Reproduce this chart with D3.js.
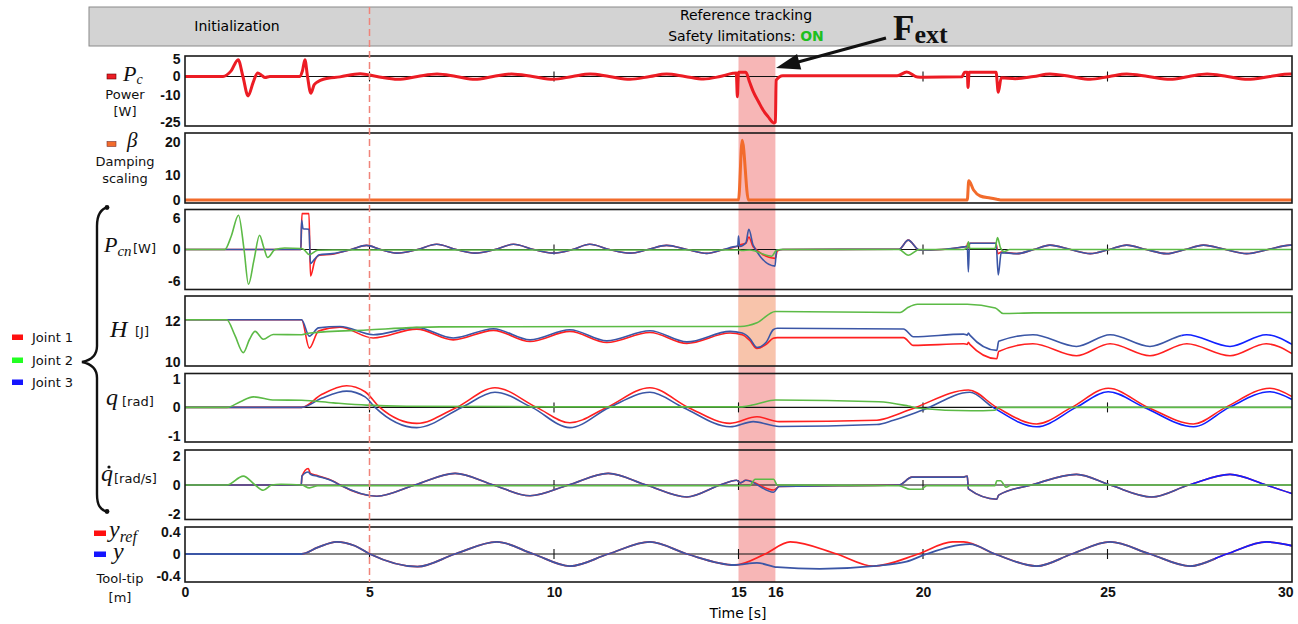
<!DOCTYPE html>
<html><head><meta charset="utf-8">
<script src="https://cdn.jsdelivr.net/npm/d3@7"></script>
<style>
body{margin:0;background:#fff;}
svg{display:block;}
</style></head><body>
<svg id="chart" width="1298" height="624"></svg>
<script>
// ---------------- DATA ----------------
const timeDomain = [0, 30];
const timeTicks = [0, 5, 10, 15, 16, 20, 25, 30];
const eventWindow = [15, 16];
const phaseBoundary = 5;
const gridTicks = [5, 10, 15, 20, 25];

const powerTicks = [5, 0, -10, -25];
const betaTicks = [20, 10, 0];
const pcnTicks = [6, 0, -6];
const energyTicks = [12, 10];
const qTicks = [1, 0, -1];
const qdotTicks = [2, 0, -2];
const tipTicks = [0.4, 0, -0.4];

const jointNames = ["Joint 1", "Joint 2", "Joint 3"];

// Power P_c [W]
const powerPc = [[0,0],[1.03,0],[1.25,1.6],[1.44,4.8],[1.57,0],[1.71,-10.5],[1.85,-3],[1.97,1.0],[2.08,0.3],[2.17,-0.5],[2.3,0],[3.1,0],[3.18,1.5],[3.25,4.8],[3.32,0],[3.41,-9],[3.5,-4.5],[3.6,-2.8],[3.75,-1.5],[4.2,-0.2],[4.75,0.8],[5.2,0],[5.77,-1.5],[6.3,0],[6.83,0.7],[7.35,0],[7.86,-1.5],[8.35,0],[8.85,0.7],[9.42,0],[9.98,-1.5],[10.5,0],[10.98,0.7],[11.5,0],[12.06,-1.5],[12.6,0],[13.05,0.7],[13.55,0],[14.05,-1.4],[14.5,0],[14.85,0.9],[14.94,1.0],[14.97,-11],[15.0,1.2],[15.2,1.2],[15.3,-3],[15.4,-8.2],[15.55,-14],[15.67,-18.5],[15.8,-22],[15.96,-25.5],[16.0,-25],[16.02,-2],[16.2,0.2],[19.3,0.2],[19.56,1.3],[19.85,-0.3],[20.0,-0.4],[21.05,-0.2],[21.13,1.2],[21.2,1.2],[21.22,-6],[21.25,1.2],[21.98,1.2],[22.04,-8.5],[22.12,-0.7],[22.5,-1.2],[23.0,0],[23.44,0.7],[24.0,0],[24.53,-1.5],[25.05,0],[25.52,0.7],[26.1,0],[26.7,-1.5],[27.2,0],[27.7,0.7],[28.25,0],[28.8,-1.5],[29.4,0],[29.95,0.7],[30,0.7]];

// Damping scaling beta
const betaScaling = [[0,0],[15.0,0],[15.1,20.5],[15.27,0],[21.2,0],[21.24,7.7],[21.37,4],[21.55,1.6],[21.82,0.8],[22.0,0.3],[22.1,0],[30,0]];

// P_cn [W]
const pcnJ1 = [[0,0],[3.14,0],[3.17,6.9],[3.36,6.9],[3.4,-5.1],[3.52,-2.1],[3.64,-1.1],[4.0,-0.9],[4.5,0],[4.92,0.8],[5.3,0],[5.74,-0.7],[6.3,0],[6.82,1.0],[7.35,0],[7.86,-0.7],[8.4,0],[8.9,1.0],[9.45,0],[9.98,-0.7],[10.5,0],[10.97,1.0],[11.5,0],[12.06,-0.7],[12.55,0],[13.05,0.8],[13.6,0],[14.14,-0.75],[14.6,0],[14.95,0.6],[15.0,0.8],[15.2,1.2],[15.28,2.4],[15.4,0.5],[16.0,-1.7],[16.05,-0.3],[16.2,0],[19.35,0.05],[19.6,1.8],[19.9,-0.1],[20.5,0],[21.1,0.5],[21.19,0.6],[21.21,1.2],[21.23,0.3],[21.27,1.2],[21.98,1.2],[22.03,-0.8],[22.12,-0.5],[22.54,-0.8],[23.0,0],[23.44,0.85],[24.0,0],[24.53,-0.8],[25.05,0],[25.52,0.85],[26.05,0],[26.6,-0.8],[27.1,0],[27.6,0.85],[28.2,0],[28.77,-0.8],[29.35,0],[29.95,0.85],[30,0.85]];
const pcnJ2 = [[0,0],[1.08,0],[1.25,2.5],[1.45,6.6],[1.6,0],[1.72,-6.7],[1.87,-2],[2.02,2.75],[2.13,0.5],[2.24,-1.55],[2.44,0],[2.7,0.3],[3.15,0.2],[3.22,0],[3.37,-1],[3.6,-0.15],[4.0,-0.1],[15.0,-0.1],[15.1,-0.2],[15.3,-0.1],[15.9,-1.3],[16.02,-0.2],[16.15,0],[19.35,0],[19.6,-1.1],[19.9,0],[21.1,0],[21.2,0.3],[21.23,1.5],[21.27,0.2],[21.95,0.2],[22.02,2.3],[22.1,0.3],[22.2,-0.4],[22.35,0],[30,0]];
const pcnJ3 = [[0,0],[3.14,0],[3.16,5.6],[3.2,4.0],[3.36,3.9],[3.4,-2.7],[3.52,-1.8],[3.64,-1.0],[4.0,-0.8],[4.5,0],[4.92,0.8],[5.3,0],[5.74,-0.7],[6.3,0],[6.82,1.0],[7.35,0],[7.86,-0.7],[8.4,0],[8.9,1.0],[9.45,0],[9.98,-0.7],[10.5,0],[10.97,1.0],[11.5,0],[12.06,-0.7],[12.55,0],[13.05,0.8],[13.6,0],[14.14,-0.75],[14.6,0],[14.95,0.6],[14.98,0.6],[15.0,2.6],[15.03,0.6],[15.2,1.3],[15.28,3.9],[15.4,0.8],[15.99,-3.2],[16.03,-0.1],[16.2,0],[19.35,0.05],[19.6,1.8],[19.9,-0.1],[20.5,0],[21.1,0.5],[21.2,0.6],[21.23,-4.3],[21.26,1.2],[21.98,1.2],[22.04,-4.9],[22.12,-0.6],[22.54,-0.8],[23.0,0],[23.44,0.85],[24.0,0],[24.53,-0.8],[25.05,0],[25.52,0.85],[26.05,0],[26.6,-0.8],[27.1,0],[27.6,0.85],[28.2,0],[28.77,-0.8],[29.35,0],[29.95,0.85],[30,0.85]];

// H [J]
const hJ1 = [[0,12.05],[3.16,12.05],[3.37,10.67],[3.62,11.5],[4.2,11.68],[5.1,11.16],[6.28,11.59],[7.27,11.07],[8.36,11.53],[9.35,10.99],[10.43,11.48],[11.43,10.94],[12.6,11.43],[13.6,10.9],[14.77,11.4],[15.1,11.32],[15.3,11.05],[15.5,10.65],[15.75,10.85],[15.94,11.15],[16.05,11.18],[19.47,11.18],[19.74,10.8],[21.1,10.88],[21.2,10.85],[21.23,10.95],[21.27,10.85],[22.0,10.15],[22.05,10.5],[22.98,10.88],[24.16,10.3],[25.07,10.88],[26.15,10.3],[27.15,10.88],[28.32,10.3],[29.3,10.88],[30,10.4]];
const hJ2 = [[0,12.05],[1.13,12.05],[1.35,11.3],[1.58,10.45],[1.75,11.1],[1.9,11.48],[2.12,11.1],[2.39,11.33],[3.16,11.32],[3.4,11.4],[4.92,11.55],[6.9,11.7],[12.8,11.72],[15.05,11.72],[15.5,11.9],[16.0,12.45],[19.38,12.4],[19.6,12.65],[19.85,12.8],[21.2,12.8],[21.96,12.62],[22.17,12.35],[23,12.38],[30,12.4]];
const hJ3 = [[0,12.05],[3.16,12.05],[3.37,11.25],[3.62,11.65],[4.2,11.72],[5.1,11.32],[6.28,11.67],[7.27,11.16],[8.36,11.61],[9.35,11.07],[10.43,11.56],[11.43,11.02],[12.6,11.51],[13.6,10.97],[14.77,11.48],[15.1,11.4],[15.3,11.15],[15.5,10.7],[15.75,10.95],[15.94,11.56],[16.05,11.63],[19.47,11.6],[19.74,11.22],[21.1,11.35],[21.2,11.3],[21.23,11.4],[21.27,11.3],[22.0,10.56],[22.05,11.0],[22.98,11.32],[24.16,10.75],[25.07,11.32],[26.15,10.75],[27.15,11.32],[28.32,10.75],[29.3,11.32],[30,10.85]];

// q [rad]
const qJ1 = [[0,0],[3.16,0],[3.7,0.45],[4.38,0.76],[4.88,0.55],[5.28,0],[6.28,-0.56],[7.36,0],[8.4,0.69],[9.53,0],[10.43,-0.54],[11.43,0],[12.6,0.69],[13.64,0],[14.77,-0.56],[15.5,-0.33],[16.1,-0.5],[18.75,-0.45],[19.3,-0.25],[19.8,0],[21.23,0.61],[22.0,0],[23.08,-0.58],[24.03,0],[25.02,0.67],[26.1,0],[27.33,-0.58],[28.2,0],[29.4,0.67],[30,0.38]];
const qJ2 = [[0,0],[1.13,0],[1.5,0.2],[1.85,0.37],[2.43,0.26],[3.16,0.25],[4.02,0.16],[4.92,0.08],[6,0.04],[10,0.02],[15.1,0.02],[15.5,0.12],[16.0,0.26],[18.8,0.2],[19.6,0.05],[19.9,-0.03],[21.3,-0.12],[21.95,-0.1],[22.05,0],[30,0]];
const qJ3 = [[0,0],[3.16,0],[3.7,0.32],[4.38,0.57],[4.88,0.37],[5.15,0],[6.28,-0.71],[7.5,0],[8.4,0.53],[9.4,0],[10.43,-0.71],[11.5,0],[12.6,0.53],[13.5,0],[14.77,-0.68],[15.4,-0.5],[16.1,-0.67],[18.75,-0.6],[19.2,-0.45],[20.0,-0.09],[21.27,0.53],[21.9,0],[23.08,-0.68],[24.15,0],[25.02,0.55],[26.0,0],[27.33,-0.68],[28.3,0],[29.4,0.55],[30,0.28]];

// q-dot [rad/s]
const qdJ1 = [[0,0],[3.15,0],[3.17,0.62],[3.34,1.15],[3.4,0.8],[3.6,0.65],[4.02,0.27],[4.2,0],[5.2,-0.78],[6.23,0],[7.32,0.81],[8.36,0],[9.35,-0.75],[10.39,0],[11.47,0.81],[12.5,0],[13.6,-0.83],[14.5,0],[14.95,0.33],[15.05,0.15],[15.2,0.33],[15.95,-0.35],[16.1,-0.1],[19.35,0],[19.7,0.55],[21.1,0.55],[21.2,0.62],[21.23,-0.27],[22.0,-0.99],[22.05,-0.7],[22.94,0],[24.16,0.74],[25.07,0],[26.2,-0.83],[27.2,0],[28.32,0.74],[29.3,0],[30,-0.6]];
const qdJ2 = [[0,0],[1.13,0],[1.58,0.62],[1.9,0],[2.12,-0.37],[2.35,0],[2.6,0.05],[3.16,0],[3.37,-0.2],[3.6,-0.05],[15.3,-0.05],[15.45,0.4],[15.95,0.4],[16.05,0],[19.35,-0.05],[19.65,-0.3],[19.95,-0.3],[20.1,-0.05],[21.95,-0.05],[22.0,0.3],[22.1,0.3],[22.25,-0.15],[22.4,0],[30,0]];
const qdJ3 = [[0,0],[3.15,0],[3.17,0.62],[3.34,0.9],[3.4,0.75],[3.6,0.6],[4.02,0.25],[4.2,0],[5.2,-0.78],[6.23,0],[7.32,0.81],[8.36,0],[9.35,-0.75],[10.39,0],[11.47,0.81],[12.5,0],[13.6,-0.83],[14.5,0],[14.95,0.33],[15.05,0.15],[15.2,0.33],[15.95,-0.5],[16.1,-0.1],[19.35,0],[19.7,0.55],[21.1,0.55],[21.2,0.62],[21.23,-0.27],[22.0,-0.99],[22.05,-0.7],[22.94,0],[24.16,0.74],[25.07,0],[26.2,-0.83],[27.2,0],[28.32,0.74],[29.3,0],[30,-0.6]];

// Tool-tip [m]
const yRef = [[0,0],[3.16,0],[3.6,0.12],[4.11,0.22],[4.6,0.15],[5.01,0],[6.3,-0.23],[7.32,0],[8.45,0.22],[9.44,0],[10.43,-0.22],[11.47,0],[12.6,0.22],[13.6,0],[14.9,-0.2],[15.72,0],[16.4,0.22],[17.66,0],[18.65,-0.22],[19.87,0],[20.8,0.22],[21.1,0.22],[21.95,0],[23.08,-0.22],[24.03,0],[25.07,0.22],[26.15,0],[27.24,-0.22],[28.23,0],[29.31,0.22],[30,0.15]];
const yTip = [[0,0],[3.16,0],[3.6,0.12],[4.11,0.22],[4.6,0.15],[5.01,0],[6.3,-0.23],[7.32,0],[8.45,0.22],[9.44,0],[10.43,-0.22],[11.47,0],[12.6,0.22],[13.6,0],[14.9,-0.2],[15.5,-0.16],[16.05,-0.24],[17.2,-0.27],[18.65,-0.22],[19.55,-0.14],[20.1,0],[21.27,0.18],[21.95,0],[23.08,-0.22],[24.03,0],[25.07,0.22],[26.15,0],[27.24,-0.22],[28.23,0],[29.31,0.22],[30,0.15]];

// ---------------- DRAWING ----------------
const svg = d3.select("#chart");
const SANS = "'DejaVu Sans', sans-serif";
const SERIF = "'Liberation Serif', 'DejaVu Serif', serif";
const AX = "'Liberation Sans', Arial, sans-serif";
const C = {red:"#ff2020", green:"#5cba46", blue:"#3b56a6", blueBright:"#1020ff",
           power:"#ec1c24", beta:"#f26b2b"};

const x = d3.scaleLinear().domain(timeDomain).range([185, 1292]);
const TOP = 56, BOTTOM = 582;

// header
svg.append("rect").attr("x",89).attr("y",7).attr("width",1203).attr("height",39)
  .attr("fill","#d3d3d3").attr("stroke","#8a8a8a").attr("stroke-width",1);
svg.append("text").attr("x",237).attr("y",31).attr("text-anchor","middle")
  .style("font-family",SANS).style("font-size","14px").text("Initialization");
svg.append("text").attr("x",746).attr("y",20).attr("text-anchor","middle")
  .style("font-family",SANS).style("font-size","14px").text("Reference tracking");
const st = svg.append("text").attr("x",746).attr("y",41).attr("text-anchor","middle")
  .style("font-family",SANS).style("font-size","14px");
st.append("tspan").text("Safety limitations: ");
st.append("tspan").attr("fill","#1fbf1f").style("font-weight","bold").text("ON");

// event band
const bandG = svg.append("g");
bandG.append("rect").attr("x",x(eventWindow[0])).attr("y",TOP)
  .attr("width",x(eventWindow[1])-x(eventWindow[0])).attr("height",BOTTOM-TOP)
  .attr("fill","#f7b6b6");

const panels = [
  {id:"pc", top:56, bottom:126, domain:[-25,-10,0,5], range:[122,95,76.5,59], ticks:powerTicks, zero:true, grid:true},
  {id:"beta", top:133, bottom:203, domain:[0,10,20], range:[200,175,142], ticks:betaTicks, zero:false, grid:false},
  {id:"pcn", top:209.5, bottom:289.5, domain:[-7.7,7.7], range:[289.5,209.5], ticks:pcnTicks, zero:true, grid:true},
  {id:"h", top:296, bottom:366, domain:[9.8,13.2], range:[366,296], ticks:energyTicks, zero:false, grid:false},
  {id:"q", top:373.5, bottom:442, domain:[-1.2,1.2], range:[441.6,373.2], ticks:qTicks, zero:true, grid:true},
  {id:"qd", top:450, bottom:519.5, domain:[-2.4,2.4], range:[519.5,450.5], ticks:qdotTicks, zero:true, grid:true},
  {id:"tip", top:527, bottom:582, domain:[-0.5,0.5], range:[581.5,526.5], ticks:tipTicks, zero:true, grid:true}
];
const Y = {};
panels.forEach(p => { Y[p.id] = d3.scaleLinear().domain(p.domain).range(p.range); });

// peach tint of band inside the energy panel
bandG.append("rect").attr("x",x(eventWindow[0])).attr("y",296)
  .attr("width",x(eventWindow[1])-x(eventWindow[0])).attr("height",70)
  .attr("fill","#f8c4ab");

const defs = svg.append("defs");
panels.forEach(p => {
  defs.append("clipPath").attr("id","clip-"+p.id).append("rect")
    .attr("x",x(0)).attr("y",p.top).attr("width",x(30)-x(0)).attr("height",p.bottom-p.top);
});

// zero lines and ticks
panels.forEach(p => {
  const g = svg.append("g");
  if (p.zero) {
    const y0 = Y[p.id](0);
    g.append("line").attr("x1",x(0)).attr("x2",x(30)).attr("y1",y0).attr("y2",y0)
      .attr("stroke","#111").attr("stroke-width",1.1);
    if (p.grid) gridTicks.forEach(t => {
      g.append("line").attr("x1",x(t)).attr("x2",x(t)).attr("y1",y0-5).attr("y2",y0+5)
        .attr("stroke","#111").attr("stroke-width",1.1);
    });
  }
  // y axis labels
  const ax = d3.axisLeft(Y[p.id]).tickValues(p.ticks).tickSize(0).tickPadding(4)
    .tickFormat(d => String(d));
  const ag = svg.append("g").attr("transform",`translate(${x(0)-0.5},0)`).call(ax);
  ag.select(".domain").remove();
  ag.selectAll("text").style("font-family",AX).style("font-size","14px")
    .style("font-weight","bold").attr("fill","#111");
});

function lineGen(id){
  return d3.line().x(d=>x(d[0])).y(d=>Y[id](d[1])).curve(d3.curveMonotoneX);
}
function draw(id, data, color, width, clip){
  svg.append("path").datum(data).attr("d",lineGen(id)).attr("fill","none")
    .attr("stroke",color).attr("stroke-width",width).attr("stroke-linejoin","round")
    .attr("clip-path","url(#"+(clip||("clip-"+id))+")");
}
// split blue into dark and bright parts
function drawBlue(id, data, switchT, width){
  const p = panels.find(q=>q.id===id);
  const a = "clipA-"+id, b = "clipB-"+id;
  defs.append("clipPath").attr("id",a).append("rect").attr("x",x(0)).attr("y",p.top)
    .attr("width",x(Math.min(30,switchT))-x(0)).attr("height",p.bottom-p.top);
  defs.append("clipPath").attr("id",b).append("rect").attr("x",x(Math.min(30,switchT))).attr("y",p.top)
    .attr("width",Math.max(0,x(30)-x(Math.min(30,switchT)))).attr("height",p.bottom-p.top);
  draw(id, data, C.blue, width, a);
  draw(id, data, C.blueBright, width, b);
}

draw("pc", powerPc, C.power, 3);
draw("beta", betaScaling, C.beta, 3);

draw("pcn", pcnJ1, C.red, 1.6);
drawBlue("pcn", pcnJ3, 31, 1.6);
draw("pcn", pcnJ2, C.green, 1.6);

draw("h", hJ1, C.red, 1.6);
drawBlue("h", hJ3, 27.0, 1.6);
draw("h", hJ2, C.green, 1.6);

draw("q", qJ1, C.red, 1.6);
drawBlue("q", qJ3, 21.9, 1.6);
draw("q", qJ2, C.green, 1.6);

draw("qd", qdJ1, C.red, 1.6);
drawBlue("qd", qdJ3, 27.2, 1.6);
draw("qd", qdJ2, C.green, 1.6);

draw("tip", yRef, C.red, 1.8);
drawBlue("tip", yTip, 27.9, 1.8);

// panel frames
panels.forEach(p => {
  svg.append("rect").attr("x",x(0)).attr("y",p.top).attr("width",x(30)-x(0))
    .attr("height",p.bottom-p.top).attr("fill","none").attr("stroke","#1a1a1a").attr("stroke-width",1.6);
});

// x axis
const xa = d3.axisBottom(x).tickValues(timeTicks).tickSize(0).tickPadding(5).tickFormat(d=>String(d));
const xg = svg.append("g").attr("transform",`translate(0,${BOTTOM})`).call(xa);
xg.select(".domain").remove();
xg.selectAll("text").style("font-family",AX).style("font-size","14px").style("font-weight","bold").attr("fill","#111");
xg.selectAll(".tick").filter(d=>d===30).select("text").attr("text-anchor","end").attr("x",1);
svg.append("text").attr("x",738).attr("y",618).attr("text-anchor","middle")
  .style("font-family",SANS).style("font-size","14px").text("Time [s]");

// phase boundary dashed line
svg.append("line").attr("x1",x(phaseBoundary)).attr("x2",x(phaseBoundary)).attr("y1",7).attr("y2",BOTTOM)
  .attr("stroke","#f0847a").attr("stroke-width",1.5).attr("stroke-dasharray","7,4");

// F_ext annotation + arrow
const fx = svg.append("text").attr("x",893).attr("y",40).style("font-family",SERIF).style("font-weight","bold").attr("fill","#111");
fx.append("tspan").style("font-size","35px").text("F");
fx.append("tspan").style("font-size","26px").attr("dy",3).text("ext");
(function(){
  const x1=886, y1=38, x2=776, y2=68;
  const dx=x2-x1, dy=y2-y1, L=Math.hypot(dx,dy), ux=dx/L, uy=dy/L;
  const hl=24, hw=8;
  const bx=x2-ux*hl, by=y2-uy*hl;
  svg.append("line").attr("x1",x1).attr("y1",y1).attr("x2",bx+ux*2).attr("y2",by+uy*2)
    .attr("stroke","#111").attr("stroke-width",3.2);
  svg.append("path").attr("d",`M${x2},${y2} L${bx-uy*hw},${by+ux*hw} L${bx+uy*hw},${by-ux*hw} Z`).attr("fill","#111");
})();

// left labels
function label(txt, xx, yy, opts={}){
  return svg.append("text").attr("x",xx).attr("y",yy).attr("text-anchor",opts.anchor||"middle")
    .style("font-family",opts.font||SANS).style("font-size",(opts.size||13)+"px")
    .style("font-style",opts.italic?"italic":"normal").attr("fill","#111").text(txt);
}
function mathLabel(main, sub, xx, yy, size, subSize, subDy){
  const t = svg.append("text").attr("x",xx).attr("y",yy).style("font-family",SERIF)
    .style("font-style","italic").style("font-size",size+"px").attr("fill","#111");
  t.append("tspan").text(main);
  if (sub) t.append("tspan").style("font-size",subSize+"px").attr("dy",subDy!=null?subDy:size*0.2).text(sub);
  return t;
}
// P_c
svg.append("rect").attr("x",107).attr("y",74).attr("width",9).attr("height",5).attr("fill",C.power).attr("stroke","#600").attr("stroke-width",0.6);
mathLabel("P","c",123,81,22,14,2.5);
label("Power",125,99);
label("[W]",125,116);
// beta
svg.append("rect").attr("x",107).attr("y",141.5).attr("width",9).attr("height",5).attr("fill",C.beta).attr("stroke","#733").attr("stroke-width",0.6);
mathLabel("β",null,127,147,21);
label("Damping",125,166);
label("scaling",125,183);
// joint group labels
mathLabel("P","cn",104,252,22,15);
label("[W]",133,253,{anchor:"start"});
mathLabel("H",null,110,337,24);
label("[J]",135,336,{anchor:"start"});
mathLabel("q",null,106,405,24);
label("[rad]",122,406,{anchor:"start"});
mathLabel("q",null,101,481,24);
svg.append("circle").attr("cx",109).attr("cy",467).attr("r",1.6).attr("fill","#111");
label("[rad/s]",114,483,{anchor:"start"});

// brace
svg.append("path").attr("d","M108,207 C100,209 97,215 97,226 L97,346 C97,355 92,360 82,362 C92,364 97,369 97,378 L97,494 C97,505 100,510 108,512")
  .attr("fill","none").attr("stroke","#111").attr("stroke-width",2.4);
svg.append("circle").attr("cx",107).attr("cy",207.5).attr("r",2.4).attr("fill","#111");
svg.append("circle").attr("cx",107).attr("cy",511.5).attr("r",2.4).attr("fill","#111");

// joint legend
const legendColors = ["#ff1010","#22ff22","#1515ff"];
jointNames.forEach((n,i) => {
  const yy = [337, 360, 382][i];
  svg.append("rect").attr("x",12).attr("y",yy-2.5).attr("width",11).attr("height",5.5).attr("fill",legendColors[i]);
  label(n,32,yy+4.5,{anchor:"start"});
});

// tool-tip legend
svg.append("rect").attr("x",94).attr("y",530.5).attr("width",12).attr("height",5.5).attr("fill","#ff1010");
mathLabel("y","ref",109,537,24,16);
svg.append("rect").attr("x",94).attr("y",551.5).attr("width",12).attr("height",5.5).attr("fill","#1515ff");
mathLabel("y",null,113,559,24);
label("Tool-tip",120,583);
label("[m]",120,602);
</script></body></html>
